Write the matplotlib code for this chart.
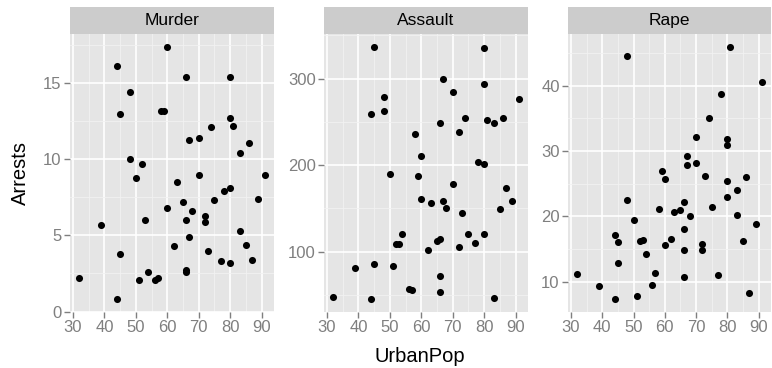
import matplotlib.pyplot as plt
from matplotlib.ticker import MultipleLocator

plt.rcParams['font.family'] = ['Liberation Sans', 'DejaVu Sans']

# USArrests, one entry per state
urban_pop = [58, 48, 80, 50, 91, 78, 77, 72, 80, 60, 83, 54, 83, 65, 57, 66, 52, 66, 51, 67,
             85, 74, 66, 44, 70, 53, 62, 81, 56, 89, 70, 86, 45, 44, 75, 68, 67, 72, 87, 48,
             45, 59, 80, 80, 32, 63, 73, 39, 66, 60]
murder = [13.2, 10.0, 8.1, 8.8, 9.0, 7.9, 3.3, 5.9, 15.4, 17.4, 5.3, 2.6, 10.4, 7.2, 2.2, 6.0,
          9.7, 15.4, 2.1, 11.3, 4.4, 12.1, 2.7, 16.1, 9.0, 6.0, 4.3, 12.2, 2.1, 7.4, 11.4, 11.1,
          13.0, 0.8, 7.3, 6.6, 4.9, 6.3, 3.4, 14.4, 3.8, 13.2, 12.7, 3.2, 2.2, 8.5, 4.0, 5.7,
          2.6, 6.8]
assault = [236, 263, 294, 190, 276, 204, 110, 238, 335, 211, 46, 120, 249, 113, 56, 115, 109,
           249, 83, 300, 149, 255, 72, 259, 178, 109, 102, 252, 57, 159, 285, 254, 337, 45, 120,
           151, 159, 106, 174, 279, 86, 188, 201, 120, 48, 156, 145, 81, 53, 161]
rape = [21.2, 44.5, 31.0, 19.5, 40.6, 38.7, 11.1, 15.8, 31.9, 25.8, 20.2, 14.2, 24.0, 21.0,
        11.3, 18.0, 16.3, 22.2, 7.8, 27.8, 16.3, 35.1, 14.9, 17.1, 28.2, 16.4, 16.5, 46.0, 9.5,
        18.8, 32.1, 26.1, 16.1, 7.3, 21.4, 20.0, 29.3, 14.9, 8.3, 22.5, 12.8, 26.9, 25.5, 22.9,
        11.2, 20.7, 26.2, 9.3, 10.8, 15.6]

facets = [("Murder", murder, 5), ("Assault", assault, 100), ("Rape", rape, 10)]
x_ticks = [30, 40, 50, 60, 70, 80, 90]

W, H = 772, 368
fig = plt.figure(figsize=(W / 100, H / 100), dpi=100)

panel_x = [(70, 274), (324, 528), (568, 771)]
top, bottom, strip_top = 34, 312, 7

tick_grey = "#7F7F7F"

for (name, vals, step), (x0, x1) in zip(facets, panel_x):
    ax = fig.add_axes([x0 / W, 1 - bottom / H, (x1 - x0) / W, (bottom - top) / H])
    ax.set_facecolor("#E5E5E5")
    ax.scatter(urban_pop, vals, s=26, color="black", zorder=3, linewidths=0)

    xmin, xmax = min(urban_pop), max(urban_pop)
    pad = (xmax - xmin) * 0.05
    ax.set_xlim(xmin - pad, xmax + pad)
    ymin, ymax = min(vals), max(vals)
    pad = (ymax - ymin) * 0.05
    ax.set_ylim(ymin - pad, ymax + pad)

    ax.set_xticks(x_ticks)
    ax.xaxis.set_minor_locator(MultipleLocator(5))
    ax.yaxis.set_major_locator(MultipleLocator(step))
    ax.yaxis.set_minor_locator(MultipleLocator(step / 2))
    ax.grid(which="major", color="white", linewidth=1.2)
    ax.grid(which="minor", color="#F2F2F2", linewidth=0.6)
    ax.set_axisbelow(True)
    for s in ax.spines.values():
        s.set_visible(False)
    ax.tick_params(which="major", length=4, width=1, color=tick_grey,
                   labelcolor=tick_grey, labelsize=12, pad=2)
    ax.tick_params(which="minor", length=0)

    strip = fig.add_axes([x0 / W, 1 - top / H, (x1 - x0) / W, (top - strip_top) / H])
    strip.set_facecolor("#CCCCCC")
    strip.set_xticks([])
    strip.set_yticks([])
    for s in strip.spines.values():
        s.set_visible(False)
    strip.text(0.5, 0.5, name, ha="center", va="center", fontsize=12.5,
               transform=strip.transAxes)

fig.text(420 / W, 1 - 356 / H, "UrbanPop", ha="center", va="center", fontsize=14.5)
fig.text(20 / W, 1 - 173 / H, "Arrests", ha="center", va="center", fontsize=14.5,
         rotation=90)

fig.savefig("out.png", dpi=100)
